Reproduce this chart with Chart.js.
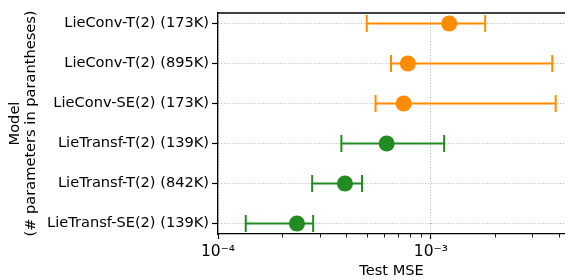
<!DOCTYPE html>
<html><head><meta charset="utf-8">
<script src="https://cdn.jsdelivr.net/npm/chart.js@4.4.1/dist/chart.umd.min.js"></script>
<style>html,body{margin:0;padding:0;background:#fff;}#wrap{width:565px;height:280px;}</style>
</head><body><div id="wrap"><canvas id="c" width="565" height="280"></canvas></div>
<script>
const models = ["LieConv-T(2) (173K)", "LieConv-T(2) (895K)", "LieConv-SE(2) (173K)",
                "LieTransf-T(2) (139K)", "LieTransf-T(2) (842K)", "LieTransf-SE(2) (139K)"];
const family = ["LieConv", "LieConv", "LieConv", "LieTransformer", "LieTransformer", "LieTransformer"];
const mse     = [1.22e-3, 7.8e-4, 7.45e-4, 6.2e-4, 3.95e-4, 2.35e-4];
const mseLow  = [5.0e-4, 6.5e-4, 5.5e-4, 3.8e-4, 2.77e-4, 1.35e-4];
const mseHigh = [1.8e-3, 3.72e-3, 3.86e-3, 1.155e-3, 4.75e-4, 2.8e-4];
const xTickValues = [1e-4, 2e-4, 3e-4, 4e-4, 5e-4, 6e-4, 7e-4, 8e-4, 9e-4, 1e-3, 2e-3, 3e-3, 4e-3];
const xTickLabels = {"-4": "10⁻⁴", "-3": "10⁻³"};
const colors = {LieConv: "#ff8c00", LieTransformer: "#228b22"};
const groups = ["LieConv", "LieTransformer"];

const FONT = "DejaVu Sans";
const FS = 14.6;
function isDecade(v) { const l = Math.log10(v); return Math.abs(l - Math.round(l)) < 1e-6; }

const datasets = groups.map(g => ({
  label: g,
  data: models.map((m, i) => ({x: mse[i], y: i, lo: mseLow[i], hi: mseHigh[i], fam: family[i]}))
              .filter(d => d.fam === g),
  backgroundColor: colors[g],
  borderColor: colors[g],
  borderWidth: 0,
  pointRadius: 8,
  pointHoverRadius: 8,
  showLine: false
}));

const decor = {
  id: "decor",
  beforeDatasetsDraw(chart) {
    const ctx = chart.ctx, xs = chart.scales.x, ys = chart.scales.y;
    ctx.save();
    ctx.lineWidth = 2;
    chart.data.datasets.forEach(ds => {
      ctx.strokeStyle = ds.borderColor;
      ds.data.forEach(d => {
        const y = ys.getPixelForValue(d.y);
        const x1 = xs.getPixelForValue(d.lo), x2 = xs.getPixelForValue(d.hi);
        ctx.beginPath();
        ctx.moveTo(x1, y); ctx.lineTo(x2, y);
        ctx.moveTo(x1, y - 8.5); ctx.lineTo(x1, y + 8.5);
        ctx.moveTo(x2, y - 8.5); ctx.lineTo(x2, y + 8.5);
        ctx.stroke();
      });
    });
    ctx.restore();
  },
  afterDraw(chart) {
    const ctx = chart.ctx, a = chart.chartArea, xs = chart.scales.x;
    ctx.save();
    ctx.strokeStyle = "#000";
    ctx.lineWidth = 1.3;
    ctx.beginPath();
    ctx.moveTo(a.left - 0.65, a.top); ctx.lineTo(a.right, a.top);
    ctx.stroke();
    ctx.lineWidth = 0.9;
    xs.ticks.forEach(t => {
      if (isDecade(t.value)) return;
      const x = Math.round(xs.getPixelForValue(t.value)) + 0.5;
      ctx.beginPath();
      ctx.moveTo(x, a.bottom); ctx.lineTo(x, a.bottom + 3.5);
      ctx.stroke();
    });
    ctx.restore();
  }
};

new Chart(document.getElementById("c"), {
  type: "scatter",
  data: {datasets},
  plugins: [decor],
  options: {
    responsive: false,
    animation: false,
    devicePixelRatio: 1,
    layout: {autoPadding: false, padding: {top: 13, right: 0, bottom: 0, left: 0}},
    plugins: {legend: {display: false}, tooltip: {enabled: false}},
    scales: {
      x: {
        type: "logarithmic",
        position: "bottom",
        min: 1e-4,
        max: 4.27e-3,
        afterBuildTicks: s => { s.ticks = xTickValues.map(v => ({value: v, major: isDecade(v)})); },
        afterFit: s => { s.height = 46; },
        ticks: {
          autoSkip: false, maxRotation: 0, padding: 4, color: "#000",
          font: {family: FONT, size: 15.5},
          callback: v => isDecade(v) ? (xTickLabels[String(Math.round(Math.log10(v)))] || "") : ""
        },
        grid: {
          drawOnChartArea: true,
          color: c => (c.tick && isDecade(c.tick.value)) ? "#b3b3b3" : "rgba(0,0,0,0)",
          lineWidth: 1,
          tickLength: 5,
          tickWidth: 1.2,
          tickColor: c => (c.tick && isDecade(c.tick.value)) ? "#000" : "rgba(0,0,0,0)"
        },
        border: {display: true, color: "#000", width: 1.3, dash: [1, 1.8]},
        title: {display: true, text: "Test MSE", color: "#000", font: {family: FONT, size: FS}, padding: {top: 0, bottom: 0}}
      },
      y: {
        type: "linear",
        reverse: true,
        min: -0.2625,
        max: 5.2625,
        afterBuildTicks: s => { s.ticks = models.map((m, i) => ({value: i})); },
        afterFit: s => { s.width = 218; },
        ticks: {
          autoSkip: false, padding: 3, color: "#000",
          font: {family: FONT, size: FS},
          callback: v => models[v]
        },
        grid: {
          drawOnChartArea: true,
          color: "#b3b3b3",
          lineWidth: 1,
          tickLength: 6,
          tickWidth: 1.2,
          tickColor: "#000"
        },
        border: {display: true, color: "#000", width: 1.3, dash: [1, 1.8]},
        title: {display: true, text: ["Model", "(# parameters in parantheses)"], color: "#000",
                font: {family: FONT, size: FS, lineHeight: 1.1}, padding: {top: 7, bottom: 0}}
      }
    }
  }
});
</script></body></html>
